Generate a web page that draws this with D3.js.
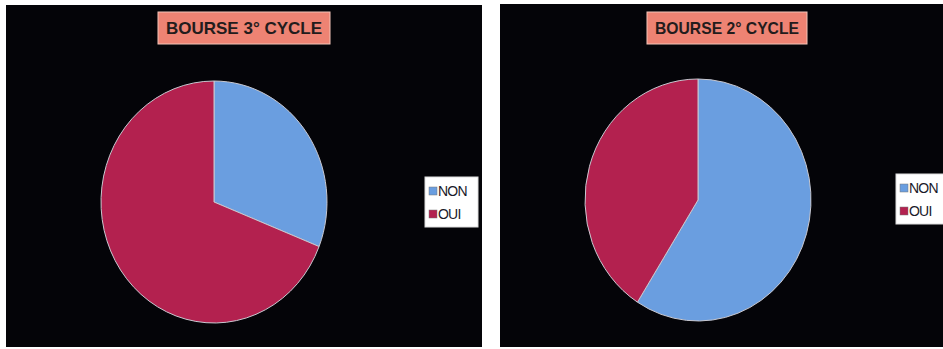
<!DOCTYPE html>
<html><head><meta charset="utf-8">
<script src="https://cdn.jsdelivr.net/npm/d3@7"></script>
<style>html,body{margin:0;padding:0;background:#fff;}svg{display:block;}</style>
</head><body>
<svg id="c" width="943" height="349"></svg>
<script>
const categories = ["NON", "OUI"];
const titles = ["BOURSE 3° CYCLE", "BOURSE 2° CYCLE"];
const values3 = [31, 69];
const values2 = [59, 41];
const colors = ["#6a9ee0", "#b3214f"];

const svg = d3.select("#c");
const color = d3.scaleOrdinal().domain(categories).range(colors);

const panels = [
  {x:6, y:5, w:476, h:342, cx:214, cy:202, title:titles[0], vals:values3, tx:158, tw:172, lx:425, ly:177},
  {x:500, y:4, w:460, h:343, cx:698, cy:200, title:titles[1], vals:values2, tx:647, tw:160, lx:896, ly:174}
];

const rx = 113, ry = 121;
const pie = d3.pie().sort(null).value(d => d.v);
const arc = d3.arc().innerRadius(0).outerRadius(rx);

panels.forEach(p => {
  const g = svg.append("g");
  g.append("rect").attr("x", p.x).attr("y", p.y).attr("width", p.w).attr("height", p.h).attr("fill", "#040408");
  // title
  g.append("rect").attr("x", p.tx).attr("y", 12).attr("width", p.tw).attr("height", 32)
    .attr("fill", "#ee8373").attr("stroke", "#f4c4b8").attr("stroke-width", 1);
  g.append("text").attr("x", p.tx + p.tw/2).attr("y", 34).attr("text-anchor", "middle")
    .attr("font-family", "Liberation Sans, Arial, sans-serif").attr("font-size", 17).attr("font-weight", "bold")
    .attr("fill", "#231c1c").attr("textLength", p.tw - 16).attr("lengthAdjust", "spacingAndGlyphs")
    .text(p.title);
  // pie
  const data = categories.map((c, i) => ({c, v: p.vals[i]}));
  const pg = g.append("g").attr("transform", `translate(${p.cx},${p.cy}) scale(1,${ry/rx})`);
  pg.selectAll("path").data(pie(data)).join("path")
    .attr("d", arc).attr("fill", d => color(d.data.c))
    .attr("stroke", "#c8c8d0").attr("stroke-width", 1).attr("vector-effect", "non-scaling-stroke");
  // legend
  const lg = g.append("g").attr("transform", `translate(${p.lx},${p.ly})`);
  lg.append("rect").attr("width", 53).attr("height", 50).attr("fill", "#fff").attr("stroke", "#ddd");
  categories.forEach((c, i) => {
    lg.append("rect").attr("x", 4).attr("y", 10 + i*23).attr("width", 8).attr("height", 8)
      .attr("fill", color(c)).attr("stroke", "#777").attr("stroke-width", 0.5);
    lg.append("text").attr("x", 13).attr("y", 19 + i*23)
      .attr("font-family", "Liberation Sans, Arial, sans-serif").attr("font-size", 14)
      .attr("letter-spacing", -0.8).attr("fill", "#1a1a2a").text(c);
  });
});
</script>
</body></html>
